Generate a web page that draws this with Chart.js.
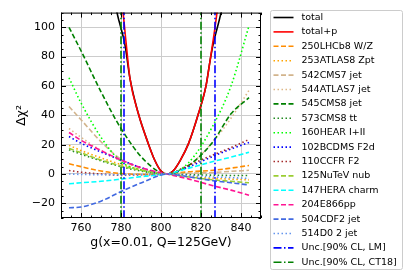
<!DOCTYPE html>
<html>
<head>
<meta charset="utf-8">
<script src="https://cdn.jsdelivr.net/npm/chart.js@4.4.1/dist/chart.umd.min.js"></script>
<style>
  html, body { margin: 0; padding: 0; background: #fff; }
  #wrap { width: 420px; height: 280px; }
</style>
</head>
<body>
<div id="wrap"><canvas id="grafico" width="420" height="280"></canvas></div>
<script>
// valores
var xCurvas = [754, 760, 770, 780, 792, 803, 814, 826, 835, 844];

var lhcb8   = [7, 5, 2, 0.3, -0.3, 0, 1.5, 2.5, 4, 5.8];
var atlas8  = [19.5, 16, 11, 6.5, 2.5, 0, -1.5, -3, -3.5, -4];
var cms7    = [46, 37, 22, 10, 3, 0, 0.5, 1, 1.8, 2.5];
var atlas7  = [31, 25, 16, 9, 3, 0, 6, 22, 38, 57];
var cms8jet = [100, 84, 56, 31, 9, 0, 6, 22, 41, 52];
var cms8tt  = [16.5, 13.5, 9, 5, 1.5, 0, -0.5, -0.8, -1, -1];
var hera    = [65.6, 48.5, 25, 8.5, 2, 0, 8, 33, 60, 101];
var bcdms   = [25.5, 21, 15, 9.5, 3.5, 0, 5, 12, 17, 21.5];
var ccfr    = [2.4, 1.2, 0, -0.8, -0.5, 0, 6, 13, 18, 23.5];
var nutev   = [17.5, 14.5, 9.5, 5.5, 2, 0, -2, -4, -5, -6];
var charm   = [-6.7, -6, -5, -3.5, -1.5, 0, 4, 8.5, 11.5, 14.8];
var e866    = [28.3, 23, 16, 9.5, 3.5, 0, -3.5, -8, -11, -14.5];
var cdf2    = [-23, -22.5, -18.5, -12, -5, 0, -2, -4.5, -6, -7.5];
var d0      = [0, -0.3, -0.5, -0.5, -0.3, 0, -1, -2, -2.5, -3];

var xTotal  = [776, 778, 782, 784.5, 788.7, 793.7, 797, 800, 803, 806, 809.5, 813.7, 818.7, 822.5, 824.5, 826, 830, 832];
var yTotal  = [125, 110, 88, 65, 41, 20.5, 9, 2, 0, 2, 9, 20.5, 41, 60, 77, 88, 110, 125];
var xTotalP = [779, 781, 782.5, 784.5, 788.7, 793.7, 797, 800, 803, 806, 809.5, 813.7, 818.7, 822.5, 824.5, 826.5, 828, 830];
var yTotalP = [125, 110, 90, 65, 41, 20.5, 9, 2, 0, 2, 9, 20.5, 41, 60, 77, 95, 110, 130];

var uncLM   = [781.5, 827];
var uncCT18 = [780, 820];

var ticksX = [760, 780, 800, 820, 840];
var ticksY = [-20, 0, 20, 40, 60, 80, 100];

var rangoX = [750, 850];
var rangoY = [-30, 110];

var FUENTE = 'DejaVu Sans';
var RAYAS = [5, 2.5];
var PUNTOS = [1.5, 2.5];
var RAYA_PUNTO = [8, 2.5, 1.5, 2.5];

function puntos(xs, ys) {
    return xs.map(function(x, i) { return {x: x, y: ys[i]}; });
}

function verticales(xs) {
    var d = [];
    xs.forEach(function(x, i) {
        if (i > 0) d.push({x: x - 1, y: null});
        d.push({x: x, y: rangoY[0] - 10});
        d.push({x: x, y: rangoY[1] + 10});
    });
    return d;
}

function serie(label, data, color, dash) {
    return {label: label, data: data, borderColor: color, borderDash: dash, borderWidth: 1.6};
}

var series = [
    serie('total', puntos(xTotal, yTotal), '#000000', []),
    serie('total+p', puntos(xTotalP, yTotalP), '#ff0000', []),
    serie('250LHCb8 W/Z', puntos(xCurvas, lhcb8), '#ff8c00', RAYAS),
    serie('253ATLAS8 Zpt', puntos(xCurvas, atlas8), '#ffa500', PUNTOS),
    serie('542CMS7 jet', puntos(xCurvas, cms7), '#d2b48c', RAYAS),
    serie('544ATLAS7 jet', puntos(xCurvas, atlas7), '#deb887', PUNTOS),
    serie('545CMS8 jet', puntos(xCurvas, cms8jet), '#008000', RAYAS),
    serie('573CMS8 tt', puntos(xCurvas, cms8tt), '#228b22', PUNTOS),
    serie('160HEAR I+II', puntos(xCurvas, hera), '#00ff00', PUNTOS),
    serie('102BCDMS F2d', puntos(xCurvas, bcdms), '#0000ff', PUNTOS),
    serie('110CCFR F2', puntos(xCurvas, ccfr), '#a52a2a', PUNTOS),
    serie('125NuTeV nub', puntos(xCurvas, nutev), '#9acd32', RAYAS),
    serie('147HERA charm', puntos(xCurvas, charm), '#00ffff', RAYAS),
    serie('204E866pp', puntos(xCurvas, e866), '#ff1493', RAYAS),
    serie('504CDF2 jet', puntos(xCurvas, cdf2), '#4169e1', RAYAS),
    serie('514D0 2 jet', puntos(xCurvas, d0), '#6495ed', PUNTOS),
    serie('Unc.[90% CL, LM]', verticales(uncLM), '#0000ff', RAYA_PUNTO),
    serie('Unc.[90% CL, CT18]', verticales(uncCT18), '#008000', RAYA_PUNTO)
];

series.forEach(function(d, i) {
    d.showLine = true;
    d.pointRadius = 0;
    d.fill = false;
    d.order = series.length - i;
    if (i >= series.length - 2) {
        d.tension = 0;
    } else {
        d.cubicInterpolationMode = 'monotone';
    }
});

// marcas hacia adentro en los cuatro lados + marco
var marcas = {
    id: 'marcas',
    afterDraw: function(chart) {
        var c = chart.ctx, a = chart.chartArea;
        var sx = chart.scales.x, sy = chart.scales.y;
        c.save();
        c.strokeStyle = '#000';
        c.lineWidth = 1;
        c.beginPath();
        for (var v = rangoX[0]; v <= rangoX[1]; v += 5) {
            var px = Math.round(sx.getPixelForValue(v)) + 0.5;
            var l = (v % 20 === 0) ? 5 : 2.5;
            c.moveTo(px, a.bottom); c.lineTo(px, a.bottom - l);
            c.moveTo(px, a.top); c.lineTo(px, a.top + l);
        }
        for (var w = rangoY[0]; w <= rangoY[1]; w += 5) {
            var py = Math.round(sy.getPixelForValue(w)) + 0.5;
            var m = (w % 20 === 0) ? 5 : 2.5;
            c.moveTo(a.left, py); c.lineTo(a.left + m, py);
            c.moveTo(a.right, py); c.lineTo(a.right - m, py);
        }
        c.stroke();
        c.strokeRect(a.left + 0.5, a.top + 0.5, a.right - a.left - 1, a.bottom - a.top - 1);
        c.restore();
    }
};

// leyenda dibujada a mano a la derecha
var leyenda = {
    id: 'leyenda',
    afterDraw: function(chart) {
        var c = chart.ctx;
        var x0 = 270.5, y0 = 10.5, ancho = 132, alto = 259;
        c.save();
        c.fillStyle = 'rgba(255,255,255,0.9)';
        c.strokeStyle = '#cccccc';
        c.lineWidth = 1;
        c.beginPath();
        c.roundRect(x0, y0, ancho, alto, 2);
        c.fill();
        c.stroke();
        c.font = '9.5px "' + FUENTE + '"';
        c.textBaseline = 'middle';
        c.textAlign = 'left';
        chart.data.datasets.forEach(function(d, i) {
            var y = 17.5 + i * 14.4;
            c.strokeStyle = d.borderColor;
            c.lineWidth = d.borderWidth;
            c.setLineDash(d.borderDash || []);
            c.beginPath();
            c.moveTo(273.5, y);
            c.lineTo(293.5, y);
            c.stroke();
            c.setLineDash([]);
            c.fillStyle = '#000';
            c.fillText(d.label, 301.5, y);
        });
        c.restore();
    }
};

function conMenos(v) {
    return String(v).replace('-', '\u2212');
}

var ctx = document.getElementById('grafico').getContext('2d');

var configuracion = {
    type: 'scatter',
    data: { datasets: series },
    options: {
        responsive: false,
        animation: false,
        layout: { padding: { top: 10, right: 159, left: 0, bottom: 0 } },
        plugins: { legend: { display: false }, tooltip: { enabled: false } },
        scales: {
            x: {
                type: 'linear',
                min: rangoX[0], max: rangoX[1],
                afterBuildTicks: function(s) { s.ticks = ticksX.map(function(v) { return {value: v}; }); },
                afterFit: function(s) { s.height = 62; },
                grid: { color: '#cccccc', lineWidth: 1, drawTicks: false },
                border: { display: false },
                ticks: { color: '#000', padding: 4, font: { family: FUENTE, size: 11 }, maxRotation: 0, callback: conMenos },
                title: { display: true, text: 'g(x=0.01, Q=125GeV)', color: '#000',
                         font: { family: FUENTE, size: 12.5 }, padding: { top: 0, bottom: 29.5 } }
            },
            y: {
                min: rangoY[0], max: rangoY[1],
                afterBuildTicks: function(s) { s.ticks = ticksY.map(function(v) { return {value: v}; }); },
                afterFit: function(s) { s.width = 61; },
                grid: { color: '#cccccc', lineWidth: 1, drawTicks: false },
                border: { display: false },
                ticks: { color: '#000', padding: 6, font: { family: FUENTE, size: 11 }, callback: conMenos },
                title: { display: true, text: 'Δχ²', color: '#000',
                         font: { family: FUENTE, size: 12.5 }, padding: { top: 14.5, bottom: 0 } }
            }
        }
    },
    plugins: [marcas, leyenda]
};

var miGrafico = new Chart(ctx, configuracion);
</script>
</body>
</html>
